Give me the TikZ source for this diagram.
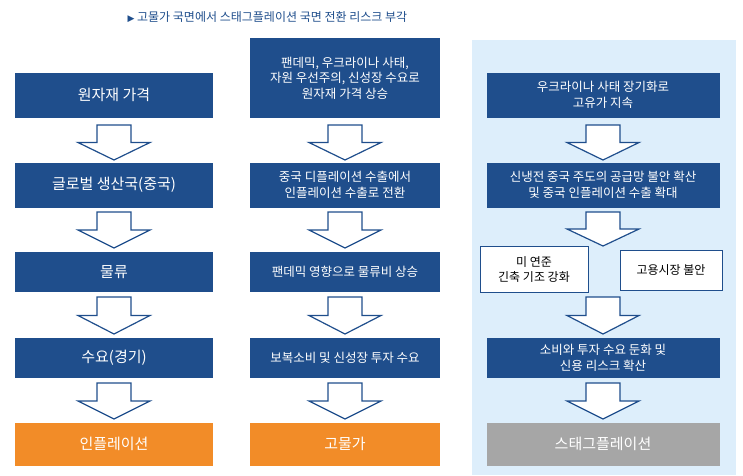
\documentclass[tikz,border=0pt]{standalone}
\usepackage{fontspec}
\setmainfont{Noto Sans CJK KR}
\newfontfamily\sym{DejaVu Sans}
\usetikzlibrary{calc}
\definecolor{dblue}{HTML}{1F4E8C}
\definecolor{lbg}{HTML}{DDEEFB}
\definecolor{org}{HTML}{F28C28}
\definecolor{gry}{HTML}{A6A6A6}
\newcommand\hollowdown[3]{% x, ytop, ybot
  \draw[dblue, line width=1.2pt, fill=white, line join=miter]
    (#1-17,#2) -- (#1+17,#2) -- (#1+17,{#2+0.5*(#3-#2)}) -- (#1+36,{#2+0.5*(#3-#2)})
    -- (#1,#3) -- (#1-36,{#2+0.5*(#3-#2)}) -- (#1-17,{#2+0.5*(#3-#2)}) -- cycle;}
\begin{document}
\begin{tikzpicture}[x=1pt,y=-1pt,
  bbox/.style={fill=dblue, text=white, minimum height=45pt, align=center, font=\fontsize{12.5}{15.5}\selectfont, inner sep=2pt},
  big/.style={font=\fontsize{15}{18}\selectfont},
  sbox/.style={draw=dblue, line width=1pt, fill=white, text=black, align=center, font=\fontsize{12}{15}\selectfont},
]
\useasboundingbox (0,0) rectangle (743,475);
\fill[lbg] (472,40) rectangle (736,475);
\node[text=dblue, font=\fontsize{12}{14}\selectfont, anchor=west] (title) at (124,17) {{\sym\small ▶} 고물가 국면에서 스태그플레이션 국면 전환 리스크 부각};
% column 1
\node[bbox, big, minimum width=198pt] (a1) at (114,95) {원자재 가격};
\node[bbox, big, minimum width=198pt] (a2) at (114,185) {글로벌 생산국(중국)};
\node[bbox, big, minimum width=198pt, minimum height=40pt] (a3) at (114,272) {물류};
\node[bbox, big, minimum width=198pt, minimum height=40pt] (a4) at (114,358) {수요(경기)};
\node[bbox, big, fill=org, minimum width=198pt, minimum height=43pt] (a5) at (114,444) {인플레이션};
\hollowdown{114}{125}{160}
\hollowdown{114}{212}{248}
\hollowdown{114}{297}{334}
\hollowdown{114}{383}{419}
% column 2
\node[bbox, minimum width=190pt, minimum height=80pt] (b1) at (345,78) {팬데믹, 우크라이나 사태,\\자원 우선주의, 신성장 수요로\\원자재 가격 상승};
\node[bbox, minimum width=190pt] (b2) at (345,185) {중국 디플레이션 수출에서\\인플레이션 수출로 전환};
\node[bbox, minimum width=190pt, minimum height=40pt] (b3) at (345,272) {팬데믹 영향으로 물류비 상승};
\node[bbox, minimum width=190pt, minimum height=40pt] (b4) at (345,358) {보복소비 및 신성장 투자 수요};
\node[bbox, big, fill=org, minimum width=190pt, minimum height=43pt] (b5) at (345,444) {고물가};
\hollowdown{345}{125}{160}
\hollowdown{345}{212}{248}
\hollowdown{345}{297}{334}
\hollowdown{345}{383}{419}
% column 3
\node[bbox, minimum width=233pt] (c1) at (603,95) {우크라이나 사태 장기화로\\고유가 지속};
\node[bbox, minimum width=233pt] (c2) at (603,185) {신냉전 중국 주도의 공급망 불안 확산\\및 중국 인플레이션 수출 확대};
\node[sbox, minimum width=108pt, minimum height=46pt] (s1) at (534,269) {미 연준\\긴축 기조 강화};
\node[sbox, minimum width=102pt, minimum height=40pt] (s2) at (671,270) {고용시장 불안};
\node[bbox, minimum width=233pt, minimum height=40pt] (c3) at (603,358) {소비와 투자 수요 둔화 및\\신용 리스크 확산};
\node[bbox, big, fill=gry, minimum width=233pt, minimum height=43pt] (c4) at (603,444) {스태그플레이션};
\hollowdown{603}{125}{160}
\hollowdown{603}{212}{246}
\hollowdown{603}{297}{334}
\hollowdown{603}{383}{419}
\end{tikzpicture}
\end{document}
